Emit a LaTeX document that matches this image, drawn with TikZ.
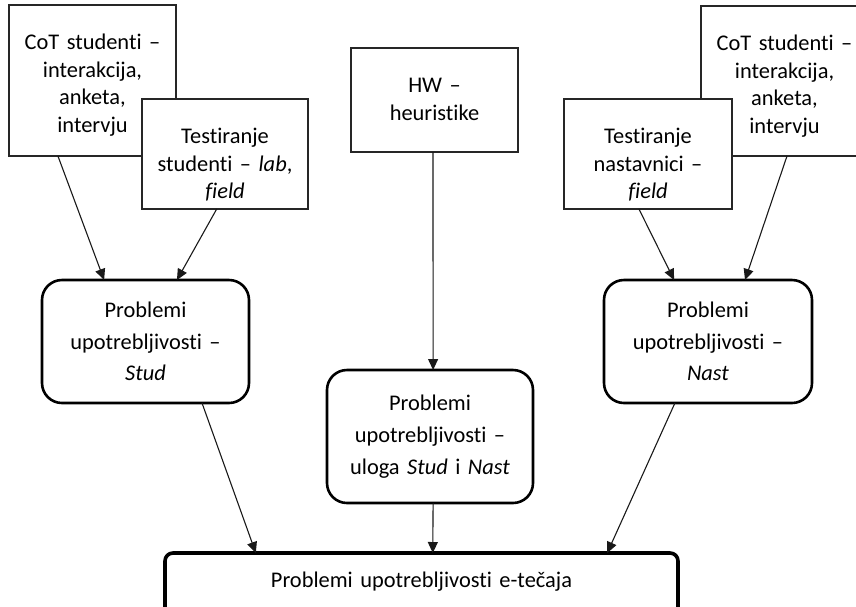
\documentclass[tikz,border=0pt]{standalone}
\usepackage{fontspec}
\setmainfont{Carlito}[Ligatures={NoCommon}]
\usetikzlibrary{calc,arrows.meta}
\begin{document}
\begin{tikzpicture}[x=1pt,y=-1pt,
  every node/.style={inner sep=0pt, outer sep=0pt, align=center},
  plainbox/.style={draw=black!85, line width=1.1pt, fill=white, font=\fontsize{22.4}{27.5}\selectfont, text height=44.5pt},
  roundbox/.style={draw=black, line width=2.6pt, fill=white, rounded corners=20pt, font=\fontsize{22.4}{31.7}\selectfont},
  bigbox/.style={draw=black, line width=3.6pt, fill=white, rounded corners=8pt, font=\fontsize{22.4}{27.5}\selectfont},
  arr/.style={-{Triangle[length=11pt,width=10pt]}, line width=1.1pt, draw=black!90}
]
\useasboundingbox (0,0) rectangle (856,606);

% top source boxes
\node[plainbox, text width=167pt, text depth=106.5pt] (cotL) at (92.5,80.5) {CoT studenti –\\interakcija,\\anketa,\\intervju};
\node[plainbox, text width=166pt, text depth=65.5pt] (testS) at (225,154) {Testiranje\\studenti – \textit{lab},\\\textit{field}};
\node[plainbox, text width=167pt, text depth=59.5pt] (hw) at (434.5,100) {HW –\\heuristike};
\node[plainbox, text width=167pt, text depth=105.5pt] (cotR) at (784.5,81) {CoT studenti –\\interakcija,\\anketa,\\intervju};
\node[plainbox, text width=168pt, text depth=65.5pt] (testN) at (648,154) {Testiranje\\nastavnici –\\\textit{field}};

% problem boxes
\node[roundbox, text width=207pt, minimum height=123pt] (stud) at (145.5,341.5) {Problemi\\upotrebljivosti –\\\textit{Stud}};
\node[roundbox, text width=208pt, minimum height=123pt] (nast) at (708,341.5) {Problemi\\upotrebljivosti –\\\textit{Nast}};
\node[roundbox, text width=206pt, minimum height=133pt] (mid) at (430,436.5) {Problemi\\upotrebljivosti –\\uloga \textit{Stud} i \textit{Nast}};

% result box
\node[bigbox, text width=513pt, text height=34pt, text depth=33pt] (bot) at (421.5,586.5) {Problemi upotrebljivosti e-tečaja};

% connectors
\draw[arr] ($(cotL.south west)!0.293!(cotL.south east)$) -- ($(stud.north west)!0.30!(stud.north east)$);
\draw[arr] ($(testS.south west)!0.45!(testS.south east)$) -- ($(stud.north west)!0.652!(stud.north east)$);
\draw[arr] ($(hw.south west)!0.491!(hw.south east)$) -- ($(mid.north west)!0.515!(mid.north east)$);
\draw[arr] ($(testN.south west)!0.446!(testN.south east)$) -- ($(nast.north west)!0.337!(nast.north east)$);
\draw[arr] ($(cotR.south west)!0.515!(cotR.south east)$) -- ($(nast.north west)!0.678!(nast.north east)$);
\draw[arr] ($(stud.south west)!0.773!(stud.south east)$) -- ($(bot.north west)!0.177!(bot.north east)$);
\draw[arr] ($(mid.south west)!0.515!(mid.south east)$) -- ($(bot.north west)!0.522!(bot.north east)$);
\draw[arr] ($(nast.south west)!0.341!(nast.south east)$) -- ($(bot.north west)!0.862!(bot.north east)$);
\end{tikzpicture}
\end{document}
